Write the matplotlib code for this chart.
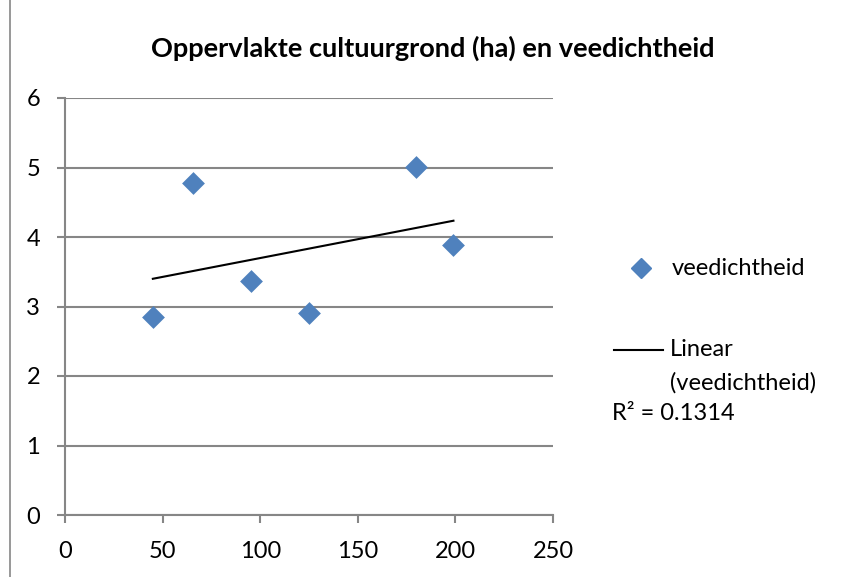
import numpy as np
import matplotlib
matplotlib.use("Agg")
import matplotlib.pyplot as plt
from matplotlib.lines import Line2D

plt.rcParams['font.family'] = ['Lato', 'DejaVu Sans']

# Data
oppervlakte = [45, 65.5, 95.5, 125, 180, 199]
veedichtheid = [2.85, 4.77, 3.37, 2.90, 5.01, 3.88]
x_ticks = [0, 50, 100, 150, 200, 250]
y_ticks = [0, 1, 2, 3, 4, 5, 6]
title = "Oppervlakte cultuurgrond (ha) en veedichtheid"
series_name = "veedichtheid"
trend_lines = ["Linear", "(veedichtheid)"]
r2_label = "R² = 0.1314"

W, H = 845, 577
fig = plt.figure(figsize=(W / 100, H / 100), dpi=100)
ax = fig.add_axes([65 / W, 1 - 515 / H, (553 - 65) / W, (515 - 98) / H])

grid_col = '#868686'
marker_col = '#4F81BD'

ax.scatter(oppervlakte, veedichtheid, marker='D', s=135, color=marker_col,
           zorder=3, linewidths=0)

# Linear trendline
xs = np.array(oppervlakte)
ys = np.array(veedichtheid)
m, b = np.polyfit(xs, ys, 1)
xl = np.array([xs.min(), xs.max()])
ax.plot(xl, m * xl + b, color='black', lw=1.5, zorder=2)

ax.set_xlim(0, 250)
ax.set_ylim(0, 6)
ax.set_xticks(x_ticks)
ax.set_yticks(y_ticks)
ax.yaxis.grid(True, color=grid_col, lw=1.5)
ax.set_axisbelow(True)
for s in ['top', 'right']:
    ax.spines[s].set_visible(False)
for s in ['left', 'bottom']:
    ax.spines[s].set_color(grid_col)
    ax.spines[s].set_linewidth(1.5)
ax.tick_params(axis='both', colors=grid_col, length=6, width=1.5, labelsize=17,
               labelcolor='black')
ax.tick_params(axis='x', pad=13)
ax.tick_params(axis='y', pad=12)

fig.text(433 / W, 1 - 48 / H, title, ha='center', va='center', fontsize=19.5,
         fontweight='bold')

# Legend (manual placement)
fig.add_artist(Line2D([641 / W], [1 - 268 / H], marker='D', markersize=10,
                      color=marker_col, lw=0, transform=fig.transFigure))
fig.text(672 / W, 1 - 268 / H, series_name, ha='left', va='center', fontsize=17)
fig.add_artist(Line2D([614 / W, 663 / W], [1 - 350 / H, 1 - 350 / H], color='black',
                      lw=1.5, transform=fig.transFigure))
fig.text(670 / W, 1 - 350 / H, trend_lines[0], ha='left', va='center', fontsize=17)
fig.text(670 / W, 1 - 383 / H, trend_lines[1], ha='left', va='center', fontsize=17)
fig.text(612 / W, 1 - 414 / H, r2_label, ha='left', va='center', fontsize=17)

# Chart area border (left edge visible)
fig.add_artist(Line2D([10 / W, 10 / W], [0, 1], color=grid_col, lw=1.2,
                      transform=fig.transFigure))

fig.savefig("out.png", dpi=100)
